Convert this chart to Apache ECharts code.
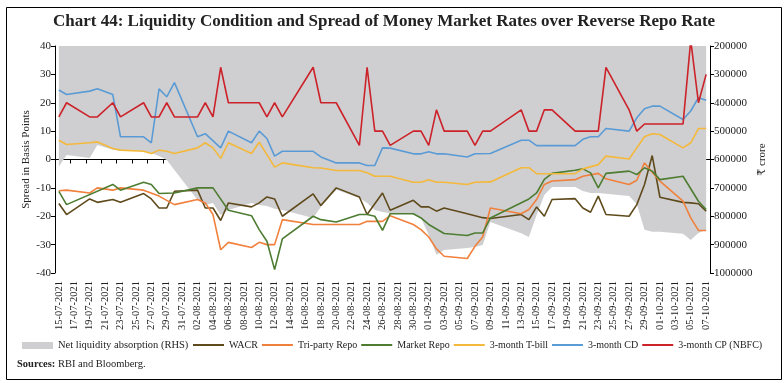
<!DOCTYPE html>
<html>
<head>
<meta charset="utf-8">
<script src="https://cdn.jsdelivr.net/npm/echarts@6/dist/echarts.min.js"></script>
<style>
html,body{margin:0;padding:0;background:#fff;}
#chart{width:784px;height:383px;}
</style>
</head>
<body>
<div id="chart"></div>
<script>
var dates = [
'15-07-2021','16-07-2021','17-07-2021','18-07-2021','19-07-2021','20-07-2021','21-07-2021','22-07-2021','23-07-2021','24-07-2021',
'25-07-2021','26-07-2021','27-07-2021','28-07-2021','29-07-2021','30-07-2021','31-07-2021','01-08-2021','02-08-2021','03-08-2021',
'04-08-2021','05-08-2021','06-08-2021','07-08-2021','08-08-2021','09-08-2021','10-08-2021','11-08-2021','12-08-2021','13-08-2021',
'14-08-2021','15-08-2021','16-08-2021','17-08-2021','18-08-2021','19-08-2021','20-08-2021','21-08-2021','22-08-2021','23-08-2021',
'24-08-2021','25-08-2021','26-08-2021','27-08-2021','28-08-2021','29-08-2021','30-08-2021','31-08-2021','01-09-2021','02-09-2021',
'03-09-2021','04-09-2021','05-09-2021','06-09-2021','07-09-2021','08-09-2021','09-09-2021','10-09-2021','11-09-2021','12-09-2021',
'13-09-2021','14-09-2021','15-09-2021','16-09-2021','17-09-2021','18-09-2021','19-09-2021','20-09-2021','21-09-2021','22-09-2021',
'23-09-2021','24-09-2021','25-09-2021','26-09-2021','27-09-2021','28-09-2021','29-09-2021','30-09-2021','01-10-2021','02-10-2021',
'03-10-2021','04-10-2021','05-10-2021','06-10-2021','07-10-2021'
];

var netLiquidity = [
625000,584000,null,null,595000,549000,null,566000,569000,null,
null,570000,577000,588000,602000,637000,null,null,743000,760000,
753000,796000,778000,null,null,753000,760000,764000,774000,778000,
null,null,null,806000,767000,null,707000,null,null,736000,
753000,778000,785000,789000,null,null,789000,806000,866000,936000,
919000,null,null,912000,908000,901000,820000,null,null,null,
860000,873000,796000,725000,697000,null,null,697000,711000,718000,
718000,721000,null,null,729000,757000,848000,855000,855000,null,
null,862000,884000,859000,848000
];

var wacr = [
-15.5,-19.4,null,null,-13.9,-15.1,null,-14.1,-15.1,null,
null,-12.0,-13.9,-17.1,-17.1,-11.2,null,null,-10.8,-17.1,
-17.1,-21.5,-15.3,null,null,-16.7,-15.3,-13.2,-13.9,-20.0,
null,null,null,-12.1,-16.2,null,-10.0,null,null,-13.2,
-19.4,null,-11.8,-17.9,null,null,-14.4,-16.7,-16.7,-18.2,
-17.1,null,null,-19.1,-19.8,-20.5,-20.8,null,null,null,
-19.4,-21.2,-16.7,-20.0,-14.1,null,null,-13.8,-17.1,-18.6,
-12.9,-19.4,null,null,-20.0,-15.9,-8.8,1.4,-13.3,null,
null,-15.1,-15.3,-15.6,-18.2
];

var triParty = [
-11.0,-10.8,null,null,-11.8,-10.0,null,-10.8,-10.0,null,
null,-10.8,null,-12.9,null,-15.9,null,null,-14.1,-15.3,
-19.4,-31.8,-29.2,null,null,-31.0,-29.2,-30.0,-30.0,-21.2,
null,null,null,-22.9,-22.9,null,-22.9,null,null,-22.9,
-21.8,-21.8,-21.8,-19.8,null,null,-22.9,-24.7,-27.3,-31.5,
-34.1,null,null,-34.9,-30.6,-27.3,-17.1,null,null,null,
-19.1,-17.6,-14.1,-8.8,-7.6,null,null,-7.1,-5.9,null,
-4.9,-6.8,null,null,-8.8,-7.3,-1.2,-4.5,-7.6,null,
null,-14.7,-20.6,-25.0,-25.0
];

var marketRepo = [
-11.2,-15.9,null,null,null,null,null,-8.8,-10.8,null,
null,-8.0,-8.8,-12.0,null,-11.8,null,null,-10.0,null,
-10.0,null,-17.9,null,null,-19.8,-24.7,-28.8,-38.8,-28.0,
null,null,null,-20.0,-21.2,null,-22.0,null,null,-19.4,
-19.4,-20.0,-25.0,-19.1,null,null,-19.1,-20.6,-22.9,null,
-26.1,null,null,-26.8,-25.9,-25.9,-20.6,null,null,null,
null,-13.9,-11.8,-7.0,-4.9,null,null,-3.8,-3.3,-4.7,
-10.0,-4.9,null,null,-4.1,-5.3,-2.9,-4.1,-7.1,null,
null,-5.9,null,-14.7,-17.6
];

var tbill = [
6.8,5.3,null,null,5.9,6.2,null,3.9,3.3,null,
null,2.9,2.1,3.3,2.9,2.1,null,null,4.1,5.9,
4.1,0.4,5.9,null,null,2.1,6.1,null,-2.7,-1.2,
null,null,null,-2.9,-3.0,null,-3.9,null,null,-3.9,
-4.7,-5.9,-5.9,-5.9,null,null,-8.0,-8.0,-7.1,-8.0,
-8.0,null,null,-8.8,-8.0,null,-7.9,null,null,null,
-2.9,-2.9,-5.0,null,null,null,null,-5.0,-3.3,null,
-1.8,1.2,null,null,0.2,4.1,8.0,9.1,8.8,null,
null,4.1,5.9,10.9,10.9
];

var cd = [
24.5,22.9,null,null,24.1,24.9,null,22.9,8.0,null,
null,8.0,5.9,24.9,22.1,27.1,null,null,8.0,9.1,
null,4.1,10.0,null,null,5.9,10.0,7.4,1.2,2.9,
null,null,null,2.9,0.9,null,-1.2,null,null,-1.2,
-2.1,-2.1,4.1,4.0,null,null,2.0,2.0,2.7,2.0,
2.0,null,null,0.9,2.0,null,2.1,null,null,null,
6.8,6.8,4.9,null,null,null,null,4.9,7.1,8.0,
8.0,10.9,null,null,10.0,14.7,17.9,18.8,18.8,null,
null,14.1,17.1,21.8,20.9
];

var cp = [
15,20,null,null,15,15,null,20,15,null,
null,20,15,15,20,15,null,null,15,20,
15,32.5,20,null,null,20,20,15,20,15,
null,null,null,32.5,20,null,20,null,null,5,
32.5,10,10,5,null,null,10,10,5,17.5,
10,null,null,10,5,10,10,null,null,null,
17.5,10,10,17.5,17.5,null,null,10,null,null,
10,32.5,null,null,17.5,10,12.5,null,null,null,
null,12.5,42,20,30
];

var seriesNames = ['Net liquidity absorption (RHS)','WACR','Tri-party Repo','Market Repo','3-month T-bill','3-month CD','3-month CP (NBFC)'];
var colors = ['#cfcfd1','#5f4a1c','#f0803c','#4e7d32','#f4b83a','#5b9bd5','#cc2229'];
var lineData = [wacr, triParty, marketRepo, tbill, cd, cp];

var FONT = '"Liberation Serif","DejaVu Serif",serif';

var series = [{
  name: seriesNames[0], type: 'line', yAxisIndex: 1, data: netLiquidity,
  symbol: 'none', connectNulls: true, z: 1,
  lineStyle: {width: 0, color: colors[0]},
  itemStyle: {color: colors[0]},
  areaStyle: {color: colors[0], opacity: 1, origin: 'start'}
}];
for (var i = 0; i < lineData.length; i++) {
  series.push({
    name: seriesNames[i+1], type: 'line', yAxisIndex: 0, data: lineData[i],
    symbol: 'none', connectNulls: true, z: 3 + i,
    lineStyle: {width: 1.6, color: colors[i+1]},
    itemStyle: {color: colors[i+1]}
  });
}

var legendText = {fontFamily: FONT, fontSize: 10, color: '#222'};

var chart = echarts.init(document.getElementById('chart'), null, {renderer: 'canvas'});
chart.setOption({
  animation: false,
  textStyle: {fontFamily: FONT},
  title: {
    text: 'Chart 44: Liquidity Condition and Spread of Money Market Rates over Reverse Repo Rate',
    left: 48, top: 8,
    textStyle: {fontFamily: FONT, fontSize: 17, fontWeight: 'bold', color: '#222'}
  },
  grid: {left: 55, right: 74, top: 46, bottom: 110, containLabel: false},
  legend: [{
    left: 22, top: 340, itemWidth: 31, itemHeight: 7, itemGap: 4, padding: 0,
    textStyle: {fontFamily: FONT, fontSize: 10.5, color: '#222'},
    data: [{name: seriesNames[0], icon: 'rect'}]
  }, {
    left: 193, top: 340, itemWidth: 31, itemHeight: 2, itemGap: 4, padding: 0,
    textStyle: legendText,
    data: seriesNames.slice(1).map(function(n){ return {name: n, icon: 'rect'}; })
  }],
  xAxis: [{
    type: 'category', data: dates, boundaryGap: true, position: 'bottom',
    axisLine: {show: false, onZero: false},
    axisTick: {show: false},
    axisLabel: {interval: 1, rotate: 90, fontSize: 10.5, color: '#222', margin: 8, fontFamily: FONT}
  }, {
    type: 'category', data: dates, boundaryGap: true, position: 'bottom',
    axisLine: {show: true, onZero: true, onZeroAxisIndex: 0, lineStyle: {color: '#000', width: 1}},
    axisTick: {show: true, interval: 1, length: 4, lineStyle: {color: '#000'}},
    axisLabel: {show: false}
  }],
  yAxis: [{
    type: 'value', min: -40, max: 40, interval: 10, position: 'left',
    name: 'Spread in Basis Points', nameLocation: 'middle', nameGap: 23, nameRotate: 90,
    nameMoveOverlap: false,
    nameTextStyle: {fontFamily: FONT, fontSize: 11, color: '#222'},
    axisLine: {show: true, lineStyle: {color: '#000'}},
    axisTick: {show: true, length: 4, lineStyle: {color: '#000'}},
    axisLabel: {fontSize: 11, color: '#222', margin: 4, fontFamily: FONT},
    splitLine: {show: false}
  }, {
    type: 'value', min: 200000, max: 1000000, interval: 100000, inverse: true, position: 'right',
    name: '₹ crore', nameLocation: 'middle', nameGap: 47, nameRotate: 90,
    nameMoveOverlap: false,
    nameTextStyle: {fontFamily: FONT, fontSize: 11, color: '#222'},
    axisLine: {show: true, lineStyle: {color: '#000'}},
    axisTick: {show: true, length: 4, lineStyle: {color: '#000'}},
    axisLabel: {fontSize: 11, color: '#222', margin: 4, fontFamily: FONT,
      formatter: function(v){ return String(v); }},
    splitLine: {show: false}
  }],
  graphic: [{
    type: 'rect', left: 4, top: 5, z: 100,
    shape: {width: 775, height: 372},
    style: {fill: 'none', stroke: '#000', lineWidth: 1}
  }, {
    type: 'text', left: 17, top: 359, z: 100,
    style: {
      text: '{b|Sources:} RBI and Bloomberg.',
      font: '10.5px ' + FONT, fill: '#222',
      rich: {b: {fontWeight: 'bold', fontFamily: FONT, fontSize: 10.5, fill: '#222'}}
    }
  }],
  series: series
});
</script>
</body>
</html>
